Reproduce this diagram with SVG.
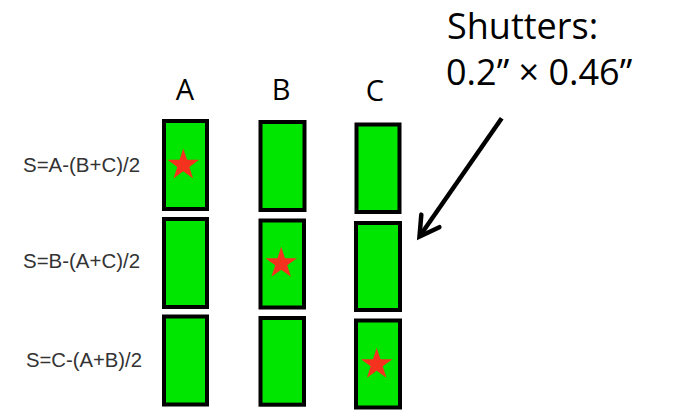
<svg xmlns="http://www.w3.org/2000/svg" width="674" height="410" viewBox="0 0 674 410">
  <style>
    .sh { fill: #00e600; stroke: #000; stroke-width: 4; }
    .star { fill: #f5321e; }
    .col { font-family: "Open Sans", "Liberation Sans", sans-serif; font-size: 29px; fill: #000; text-anchor: middle; }
    .eq { font-family: "Liberation Sans", Arial, sans-serif; font-size: 20px; fill: #333; }
    .note { font-family: "Open Sans", "Liberation Sans", sans-serif; font-size: 36px; fill: #000; }
    .arrow { fill: none; stroke: #000; stroke-width: 4.5; }
  </style>
  <defs>
    <path id="star" d="M0,-16.6 L3.73,-5.14 L15.79,-5.13 L6.04,1.96 L9.76,13.43 L0,6.35 L-9.76,13.43 L-6.04,1.96 L-15.79,-5.13 L-3.73,-5.14 Z"/>
    <marker id="head" markerUnits="userSpaceOnUse" markerWidth="40" markerHeight="40" viewBox="-30 -20 40 40" refX="0" refY="0" orient="auto">
      <path d="M-19,-11 L0,0 L-19,11" fill="none" stroke="#000" stroke-width="4.5" stroke-linecap="round" stroke-linejoin="miter"/>
    </marker>
  </defs>
  <rect width="674" height="410" fill="#fff"/>

  <g id="col-labels">
    <text class="col" x="185" y="100">A</text>
    <text class="col" x="281" y="100">B</text>
    <text class="col" x="375" y="101">C</text>
  </g>

  <g id="eq-labels">
    <text class="eq" x="23" y="172" textLength="117" lengthAdjust="spacingAndGlyphs">S=A-(B+C)/2</text>
    <text class="eq" x="23" y="268" textLength="117" lengthAdjust="spacingAndGlyphs">S=B-(A+C)/2</text>
    <text class="eq" x="26" y="367" textLength="116" lengthAdjust="spacingAndGlyphs">S=C-(A+B)/2</text>
  </g>

  <g id="shutter-A1"><rect class="sh" x="164" y="121" width="43" height="88"/><use href="#star" class="star" transform="translate(183.3,165)"/></g>
  <g id="shutter-B1"><rect class="sh" x="260.5" y="122" width="44" height="88"/></g>
  <g id="shutter-C1"><rect class="sh" x="356.5" y="124.5" width="43" height="87.5"/></g>

  <g id="shutter-A2"><rect class="sh" x="164" y="219" width="43" height="88"/></g>
  <g id="shutter-B2"><rect class="sh" x="260.5" y="220.5" width="43.5" height="87"/><use href="#star" class="star" transform="translate(281.2,263.3)"/></g>
  <g id="shutter-C2"><rect class="sh" x="356" y="223" width="44" height="87"/></g>

  <g id="shutter-A3"><rect class="sh" x="164" y="316.5" width="43" height="88"/></g>
  <g id="shutter-B3"><rect class="sh" x="260.5" y="318" width="43.5" height="86.7"/></g>
  <g id="shutter-C3"><rect class="sh" x="356" y="320.5" width="44" height="87"/><use href="#star" class="star" transform="translate(376.7,364.3)"/></g>

  <g id="note">
    <text class="note" x="447" y="39">Shutters:</text>
    <text class="note" x="446" y="85">0.2” × 0.46”</text>
  </g>

  <g id="connectors">
    <path class="arrow" d="M501.7,118.3 L419.5,236.5" marker-end="url(#head)"/>
  </g>
</svg>
